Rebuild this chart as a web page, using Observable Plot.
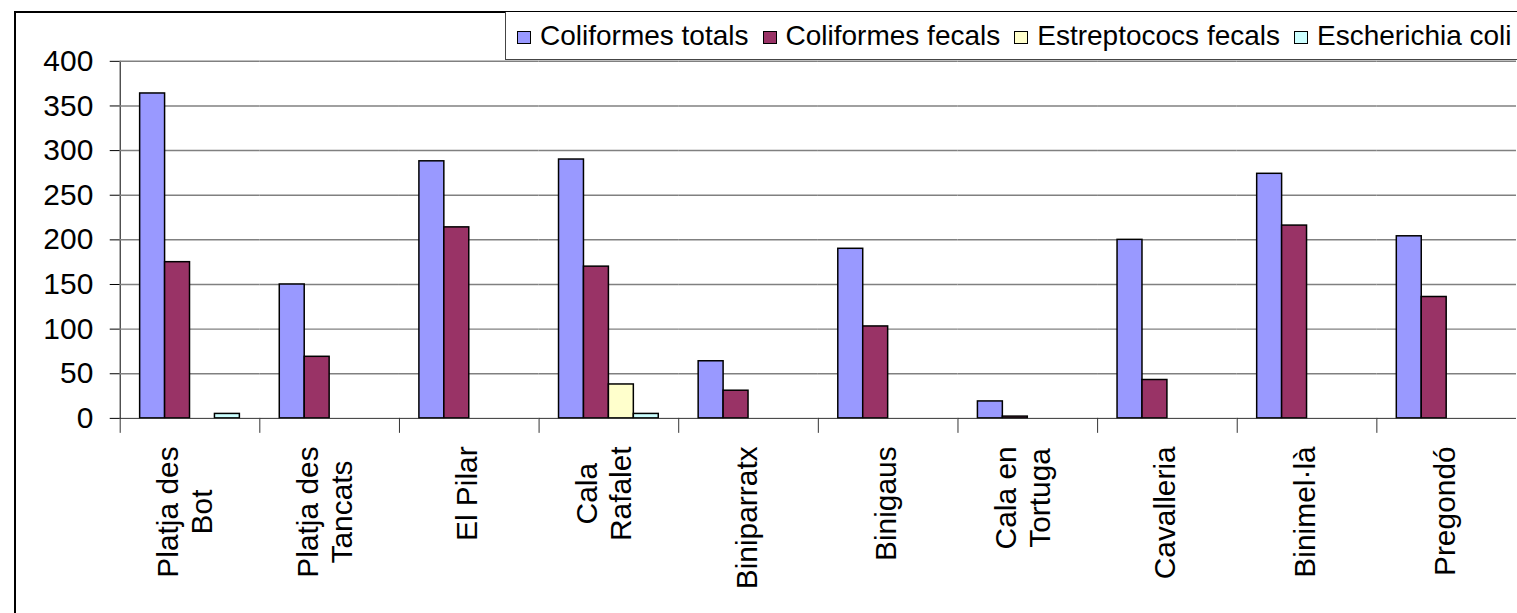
<!DOCTYPE html>
<html>
<head>
<meta charset="utf-8">
<script src="https://cdn.jsdelivr.net/npm/d3@7"></script>
<script src="https://cdn.jsdelivr.net/npm/@observablehq/plot@0.6"></script>
<style>
  html, body { margin: 0; padding: 0; background: #fff; overflow: hidden; }
  #wrap { position: relative; width: 1517px; height: 613px; overflow: hidden; font-family: "Liberation Sans", Arial, sans-serif; }
  #chart { position: absolute; left: 0; top: 0; }
  #border { position: absolute; left: 14px; top: 11px; width: 1600px; height: 700px; border: 2px solid #000; box-sizing: border-box; pointer-events: none; }
  #legend { position: absolute; left: 505px; top: 12px; height: 48px; width: 1100px; border-left: 1px solid #444; border-bottom: 1px solid #444; background: #fff; display: flex; align-items: center; font-size: 28px; color: #000; padding-left: 11px; box-sizing: border-box; white-space: nowrap; }
  .item { display: flex; align-items: center; margin-right: 14px; }
  .sw { width: 12px; height: 11px; border: 1.7px solid #000; margin-right: 9px; margin-top: 3px; }
</style>
</head>
<body>
<div id="wrap">
  <div id="chart"></div>
  <div id="border"></div>
  <div id="legend"></div>
</div>
<script>
// ---- data ----
const categories = ["Platja des Bot", "Platja des Tancats", "El Pilar", "Cala Rafalet", "Biniparratx", "Binigaus", "Cala en Tortuga", "Cavalleria", "Binimel·là", "Pregondó"];
const tickLabels = ["Platja des\nBot", "Platja des\nTancats", "El Pilar", "Cala\nRafalet", "Biniparratx", "Binigaus", "Cala en\nTortuga", "Cavalleria", "Binimel·là", "Pregondó"];
const seriesNames = ["Coliformes totals", "Coliformes fecals", "Estreptococs fecals", "Escherichia coli"];
const coliformesTotals   = [364, 150, 288, 290, 64, 190, 19, 200, 274, 204];
const coliformesFecals   = [175, 69, 214, 170, 31, 103, 2, 43, 216, 136];
const estreptococsFecals = [0, 0, 0, 38, 0, 0, 0, 0, 0, 0];
const escherichiaColi    = [5, 0, 0, 5, 0, 0, 0, 0, 0, 0];
const yTicks = [0, 50, 100, 150, 200, 250, 300, 350, 400];
const seriesColors = ["#9999FF", "#993366", "#FFFFCC", "#CCFFFF"];

// ---- build table ----
const seriesValues = [coliformesTotals, coliformesFecals, estreptococsFecals, escherichiaColi];
const rows = [];
categories.forEach((c, i) => {
  seriesNames.forEach((s, j) => rows.push({category: c, series: s, value: seriesValues[j][i]}));
});

const W = 1521, H = 613, plotTop = 61, plotBottom = 419, left = 118;
const font = '"Liberation Sans", Arial, sans-serif';

const ctx = document.createElement("canvas").getContext("2d");
ctx.font = "30px 'Liberation Sans', Arial";

const labelMarks = categories.map((c, i) => {
  const lines = tickLabels[i].split("\n");
  const L = Math.max(...lines.map(l => ctx.measureText(l).width));
  return Plot.text(rows, {
    filter: d => d.category === c && d.series === seriesNames[0],
    text: () => tickLabels[i],
    frameAnchor: "bottom",
    rotate: -90,
    textAnchor: "middle",
    lineHeight: 1.12,
    fontSize: 30,
    fill: "#000",
    dx: 8 + 14 * (lines.length - 1),
    dy: 28 + L / 2
  });
});

const chart = Plot.plot({
  width: W,
  height: H,
  marginTop: plotTop,
  marginBottom: H - plotBottom,
  marginLeft: left,
  marginRight: 0,
  facet: {data: rows, x: "category"},
  fx: {domain: categories, padding: 0, axis: null},
  x: {domain: seriesNames, paddingInner: 0, paddingOuter: 0.75, axis: null},
  y: {domain: [0, 400], ticks: yTicks, tickSize: 10, tickPadding: 17, line: true, label: null},
  color: {domain: seriesNames, range: seriesColors},
  style: {fontFamily: font, fontSize: "30px", color: "#000", background: "transparent", overflow: "visible"},
  marks: [
    Plot.ruleY(yTicks.filter(v => v > 0), {stroke: "#808080", strokeWidth: 1.5}),
    Plot.barY(rows, {filter: d => d.value > 0, x: "series", y: "value", fill: "series", stroke: "#000", strokeWidth: 1.5, inset: 0}),
    Plot.ruleY([0], {stroke: "#333", strokeWidth: 1}),
    Plot.frame({anchor: "left", insetTop: plotBottom - plotTop, insetBottom: -14, stroke: "#333"}),
    ...labelMarks
  ]
});
document.getElementById("chart").appendChild(chart);

// ---- legend ----
const legend = document.getElementById("legend");
seriesNames.forEach((s, j) => {
  const it = document.createElement("div");
  it.className = "item";
  const sw = document.createElement("div");
  sw.className = "sw";
  sw.style.background = seriesColors[j];
  const tx = document.createElement("span");
  tx.textContent = s;
  it.appendChild(sw);
  it.appendChild(tx);
  legend.appendChild(it);
});
</script>
</body>
</html>
